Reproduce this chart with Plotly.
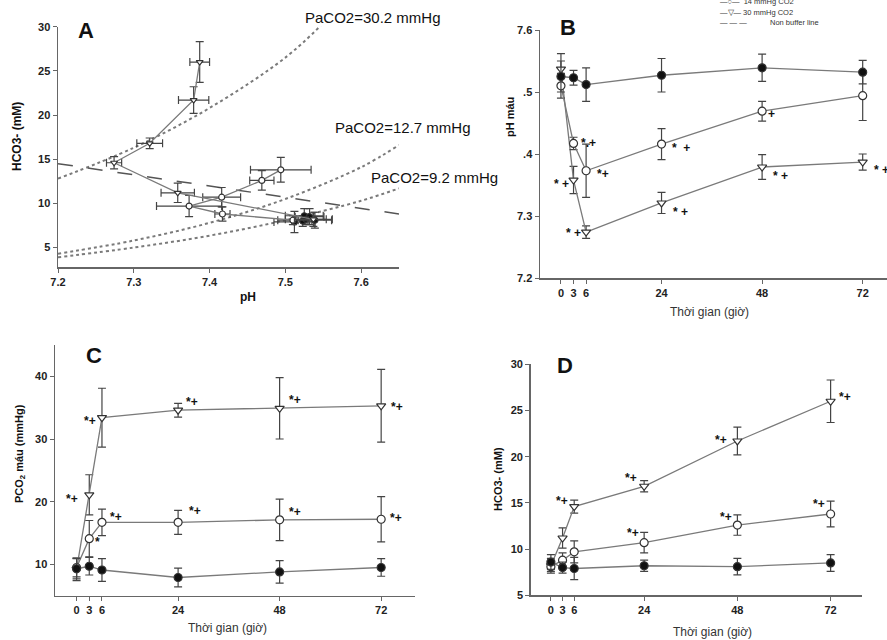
import plotly.graph_objects as go

W, H = 887, 640

# ---------------- data ----------------
hours = [0, 3, 6, 24, 48, 72]

ph_ctrl = [7.525, 7.523, 7.512, 7.527, 7.539, 7.532]
ph_ctrl_err = [0.025, 0.012, 0.027, 0.027, 0.022, 0.019]
ph_14 = [7.510, 7.417, 7.373, 7.416, 7.469, 7.494]
ph_14_err = [0.020, 0.010, 0.043, 0.025, 0.016, 0.040]
ph_30 = [7.537, 7.358, 7.274, 7.321, 7.379, 7.387]
ph_30_err = [0.025, 0.022, 0.010, 0.017, 0.020, 0.013]

pco2_ctrl = [9.3, 9.7, 9.1, 7.9, 8.8, 9.5]
pco2_ctrl_err = [1.6, 1.4, 1.8, 1.5, 1.8, 1.4]
pco2_14 = [9.5, 14.1, 16.7, 16.7, 17.1, 17.2]
pco2_14_err = [1.5, 2.9, 2.1, 1.9, 3.3, 3.6]
pco2_30 = [9.2, 21.1, 33.4, 34.6, 34.9, 35.3]
pco2_30_err = [1.8, 3.2, 4.7, 1.1, 4.9, 5.8]

hco3_ctrl = [8.6, 8.0, 7.9, 8.2, 8.1, 8.5]
hco3_ctrl_err = [0.8, 0.6, 1.2, 0.6, 0.9, 0.9]
hco3_14 = [8.1, 8.8, 9.7, 10.7, 12.6, 13.8]
hco3_14_err = [0.5, 0.8, 1.2, 1.1, 1.1, 1.4]
hco3_30 = [8.2, 11.2, 14.6, 16.8, 21.7, 26.0]
hco3_30_err = [0.8, 1.1, 0.7, 0.6, 1.5, 2.3]

# PaCO2 isopleths
iso302_ph = [7.20, 7.30, 7.40, 7.50, 7.55]
iso302_hco3 = [12.8, 16.3, 20.8, 26.5, 30.4]
iso127_ph = [7.20, 7.30, 7.40, 7.50, 7.60, 7.65]
iso127_hco3 = [4.3, 5.8, 7.8, 10.5, 14.1, 16.6]
iso92_ph = [7.20, 7.30, 7.40, 7.50, 7.60, 7.65]
iso92_hco3 = [3.9, 5.0, 6.35, 8.1, 10.3, 11.7]

# non buffer line
nb_ph = [7.20, 7.65]
nb_hco3 = [14.5, 8.8]

iso_labels = ["PaCO2=30.2 mmHg", "PaCO2=12.7 mmHg", "PaCO2=9.2 mmHg"]

ph_ticks = [7.2, 7.3, 7.4, 7.5, 7.6]
hco3_ticks_a = [5, 10, 15, 20, 25, 30]
b_ticks = [7.2, 7.3, 7.4, 7.5, 7.6]
b_ticktext = ["7.2", "7.3", ".4", ".5", "7.6"]
c_ticks = [10, 20, 30, 40]
d_ticks = [5, 10, 15, 20, 25, 30]

# ---------------- helpers ----------------
def px(x):
    return x / W

def py(y):
    return 1 - y / H

LINE_C = "#7a7a7a"
ERR_C = "#444444"
EDGE_C = "#333333"
AX_C = "#666666"
FONT = "Arial, Liberation Sans, sans-serif"

fig = go.Figure()

def series(x, y, ex, ey, symbol, fill, xa, ya, size):
    tr = dict(
        x=x, y=y, mode="lines+markers", xaxis=xa, yaxis=ya,
        line=dict(color=LINE_C, width=1.3),
        marker=dict(symbol=symbol, size=size, color=fill,
                    line=dict(color=EDGE_C, width=1.2)),
        error_y=dict(type="data", array=ey, color=ERR_C, thickness=1.2, width=4),
        showlegend=False, hoverinfo="skip",
    )
    if ex is not None:
        tr["error_x"] = dict(type="data", array=ex, color=ERR_C, thickness=1.2, width=4)
    fig.add_trace(go.Scatter(**tr))

# ---------------- panel A ----------------
for xs, ys in [(iso302_ph, iso302_hco3), (iso127_ph, iso127_hco3), (iso92_ph, iso92_hco3)]:
    fig.add_trace(go.Scatter(x=xs, y=ys, mode="lines", xaxis="x", yaxis="y",
                             line=dict(color="#7a7a7a", width=2, dash="dot", shape="spline"),
                             showlegend=False, hoverinfo="skip"))
fig.add_trace(go.Scatter(x=nb_ph, y=nb_hco3, mode="lines", xaxis="x", yaxis="y",
                         line=dict(color="#555555", width=1.5, dash="longdash"),
                         showlegend=False, hoverinfo="skip"))
series(ph_ctrl, hco3_ctrl, ph_ctrl_err, hco3_ctrl_err, "circle", "#111111", "x", "y", 6)
series(ph_14, hco3_14, ph_14_err, hco3_14_err, "circle", "white", "x", "y", 6)
series(ph_30, hco3_30, ph_30_err, hco3_30_err, "triangle-down", "white", "x", "y", 6)

# ---------------- panels B, C, D ----------------
for (yc, ycerr, y14, y14err, y30, y30err, xa, ya) in [
    (ph_ctrl, ph_ctrl_err, ph_14, ph_14_err, ph_30, ph_30_err, "x2", "y2"),
    (pco2_ctrl, pco2_ctrl_err, pco2_14, pco2_14_err, pco2_30, pco2_30_err, "x3", "y3"),
    (hco3_ctrl, hco3_ctrl_err, hco3_14, hco3_14_err, hco3_30, hco3_30_err, "x4", "y4"),
]:
    series(hours, y30, None, y30err, "triangle-down", "white", xa, ya, 8)
    series(hours, y14, None, y14err, "circle", "white", xa, ya, 8)
    series(hours, yc, None, ycerr, "circle", "#111111", xa, ya, 8)

# ---------------- axes ----------------
tickfont = dict(family=FONT, size=11, color="#222222", weight="bold")
common = dict(showline=True, linecolor=AX_C, linewidth=1.5, ticks="outside",
              tickcolor=AX_C, ticklen=4, tickwidth=1, showgrid=False, zeroline=False,
              tickfont=tickfont, mirror=False, automargin=False)

fig.update_layout(
    xaxis=dict(domain=[px(58), px(399)], range=[7.2, 7.65], tickvals=ph_ticks,
               ticktext=["7.2", "7.3", "7.4", "7.5", "7.6"], anchor="y", **common),
    yaxis=dict(domain=[py(267), py(26.7)], range=[2.8, 30], tickvals=hco3_ticks_a,
               anchor="x", **common),
    xaxis2=dict(domain=[px(540), 1.0], range=[-5.0, 77.8], tickvals=hours, anchor="y2", **common),
    yaxis2=dict(domain=[py(278), py(30)], range=[7.2, 7.6], tickvals=b_ticks,
                ticktext=b_ticktext, anchor="x2", **common),
    xaxis3=dict(domain=[px(55), px(415)], range=[-5.1, 80], tickvals=hours, anchor="y3", **common),
    yaxis3=dict(domain=[py(595.7), py(345)], range=[5, 45], tickvals=c_ticks, anchor="x3", **common),
    xaxis4=dict(domain=[px(530.7), px(861.7)], range=[-5.2, 80], tickvals=hours, anchor="y4", **common),
    yaxis4=dict(domain=[py(595.3), py(364.3)], range=[5, 30], tickvals=d_ticks, anchor="x4", **common),
)

# ---------------- annotations ----------------
ann = []

def pa(x, y, text, size=12, bold=False, angle=0, color="#111111", xanchor="center"):
    ann.append(dict(x=px(x), y=py(y), xref="paper", yref="paper", text=text,
                    showarrow=False, textangle=angle, xanchor=xanchor, yanchor="middle",
                    font=dict(family=FONT, size=size, color=color,
                              weight="bold" if bold else "normal")))

# panel letters
pa(86, 30, "A", 22, True)
pa(568, 28, "B", 22, True)
pa(94, 355, "C", 22, True)
pa(565, 365, "D", 22, True)

# axis titles
pa(248, 297, "pH", 12, True)
pa(17, 137, "HCO3- (mM)", 12, True, -90)
pa(510, 117, "pH máu", 11, True, -90)
pa(709, 312, "Thời gian (giờ)", 12, False, 0, "#333333")
pa(20, 454, "PCO<sub>2</sub> máu (mmHg)", 11, True, -90)
pa(227, 628, "Thời gian (giờ)", 12, False, 0, "#333333")
pa(498, 479, "HCO3- (mM)", 11, True, -90)
pa(712, 632, "Thời gian (giờ)", 12, False, 0, "#333333")

# isopleth labels
pa(372, 17, iso_labels[0], 15)
pa(402, 128, iso_labels[1], 15)
pa(434, 177, iso_labels[2], 15)

# legend (top right, partly cut)
pa(718, 1, "—○—  14 mmHg CO2", 7.5, False, 0, "#333333", "left")
pa(718, 12, "—▽— 30 mmHg CO2", 7.5, False, 0, "#333333", "left")
pa(718, 23, "— — —", 7.5, False, 0, "#333333", "left")
pa(768, 23, "Non buffer line", 7.5, False, 0, "#333333", "left")

# significance marks tied to data points: (xaxis, yaxis, xs, ys, index, text, dx, dy)
marks = [
    ("x2", "y2", hours, ph_14, 1, "*.+", 15, 0),
    ("x2", "y2", hours, ph_14, 2, "*+", 17, 3),
    ("x2", "y2", hours, ph_14, 3, "*  +", 19, 4),
    ("x2", "y2", hours, ph_14, 4, "+", 9, 3),
    ("x2", "y2", hours, ph_30, 1, "* +", -12, 4),
    ("x2", "y2", hours, ph_30, 2, "* +", -13, 1),
    ("x2", "y2", hours, ph_30, 3, "* +", 19, 9),
    ("x2", "y2", hours, ph_30, 4, "* +", 18, 9),
    ("x2", "y2", hours, ph_30, 5, "* +", 19, 8),
    ("x3", "y3", hours, pco2_30, 1, "*+", -17, 4),
    ("x3", "y3", hours, pco2_30, 2, "*+", -12, 3),
    ("x3", "y3", hours, pco2_30, 3, "*+", 14, -8),
    ("x3", "y3", hours, pco2_30, 4, "*+", 15, -8),
    ("x3", "y3", hours, pco2_30, 5, "*+", 16, 1),
    ("x3", "y3", hours, pco2_14, 1, "*", 8, 3),
    ("x3", "y3", hours, pco2_14, 2, "*+", 14, -5),
    ("x3", "y3", hours, pco2_14, 3, "*+", 17, -11),
    ("x3", "y3", hours, pco2_14, 4, "*+", 15, -8),
    ("x3", "y3", hours, pco2_14, 5, "*+", 15, -1),
    ("x4", "y4", hours, hco3_30, 2, "*+", -12, -6),
    ("x4", "y4", hours, hco3_30, 3, "*+", -13, -8),
    ("x4", "y4", hours, hco3_30, 4, "*+", -16, -1),
    ("x4", "y4", hours, hco3_30, 5, "*+", 14, -4),
    ("x4", "y4", hours, hco3_14, 3, "*+", -11, -10),
    ("x4", "y4", hours, hco3_14, 4, "*+", -11, -8),
    ("x4", "y4", hours, hco3_14, 5, "*+", -12, -10),
]
for xa, ya, xs, ys, i, t, dx, dy in marks:
    ann.append(dict(x=xs[i], y=ys[i], xref=xa, yref=ya, text=t, showarrow=False,
                    xshift=dx, yshift=-dy, xanchor="center", yanchor="middle",
                    font=dict(family=FONT, size=12, color="#111111", weight="bold")))

fig.update_layout(
    annotations=ann,
    width=W, height=H,
    margin=dict(l=0, r=0, t=0, b=0, pad=0, autoexpand=False),
    paper_bgcolor="white", plot_bgcolor="white",
    showlegend=False,
    hovermode=False,
    font=dict(family=FONT),
)

fig.write_html(
    "out.html",
    config={"displayModeBar": False, "staticPlot": True},
    post_script="document.body.style.margin='0';document.body.style.overflow='hidden';",
)
